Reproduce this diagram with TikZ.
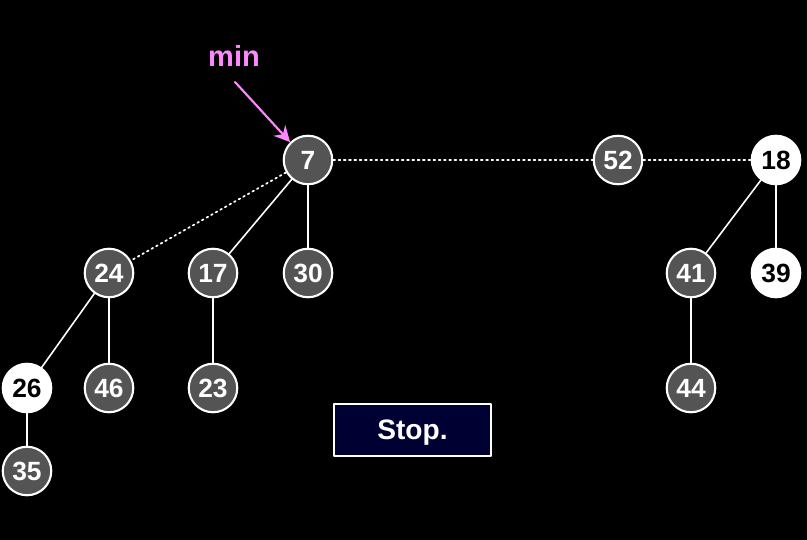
\documentclass[tikz,border=0pt]{standalone}
\usepackage{fontspec}
\setmainfont{Liberation Sans}
\usepackage{tikz}
\usetikzlibrary{arrows.meta}
\definecolor{qqgray}{rgb}{0.33,0.33,0.33}
\definecolor{ffpink}{rgb}{1,0.53,1}
\definecolor{qqnavy}{rgb}{0,0,0.2}
\tikzset{
  key/.style={circle,draw=white,line width=1.2pt,fill=qqgray,text=white,
    minimum size=0.97cm,inner sep=0pt,font=\fontsize{15}{18}\selectfont\bfseries},
  mark key/.style={key,fill=white,text=black},
  child/.style={draw=white,line width=0.9pt},
  root link/.style={draw=white,line width=1pt,dotted}
}
\begin{document}
\begin{tikzpicture}[line cap=round,line join=round,x=0.02cm,y=-0.02cm]
\fill[black] (0,0) rectangle (807,540);
\useasboundingbox (0,0) rectangle (807,540);
% root list
\node[key] (r7) at (308,160) {7};
\node[key] (r52) at (618,160) {52};
\node[mark key] (r18) at (776,160) {18};
% children
\node[key] (c24) at (109,273) {24};
\node[key] (c17) at (213,273) {17};
\node[key] (c30) at (308,273) {30};
\node[key] (c41) at (691,273) {41};
\node[mark key] (c39) at (776,273) {39};
\node[mark key] (c26) at (27,388) {26};
\node[key] (c46) at (109,388) {46};
\node[key] (c23) at (213,388) {23};
\node[key] (c44) at (691,388) {44};
\node[key] (c35) at (27,471) {35};
\draw[root link] (r7) -- (r52);
\draw[root link] (r52) -- (r18);
\draw[root link] (r7) -- (c24);
\draw[child] (r7) -- (c17);
\draw[child] (r7) -- (c30);
\draw[child] (c24) -- (c26);
\draw[child] (c24) -- (c46);
\draw[child] (c17) -- (c23);
\draw[child] (c26) -- (c35);
\draw[child] (r18) -- (c41);
\draw[child] (r18) -- (c39);
\draw[child] (c41) -- (c44);
% min pointer
\node[text=ffpink,font=\fontsize{16.5}{20}\selectfont\bfseries] (minlbl) at (234,56) {min};
\draw[ffpink,line width=1.2pt,-{Stealth[length=9pt,width=9pt]}] (235,82) -- (r7.north west);
% status box
\node[draw=white,line width=0.9pt,fill=qqnavy,text=white,minimum width=3.14cm,minimum height=1.04cm,
  text depth=0pt,font=\fontsize{16}{19}\selectfont\bfseries] (stop) at (412.5,430) {Stop.};
\end{tikzpicture}
\end{document}
